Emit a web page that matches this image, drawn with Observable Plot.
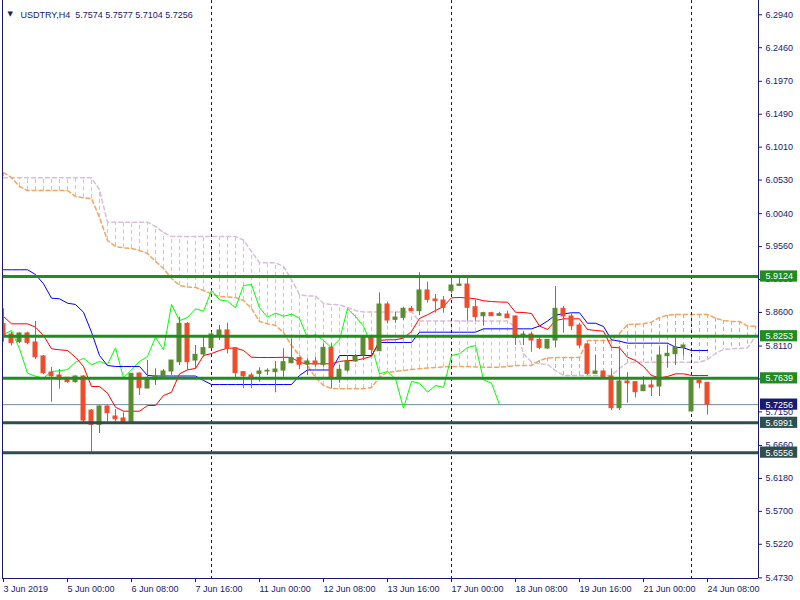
<!DOCTYPE html>
<html><head><meta charset="utf-8">
<script src="https://cdn.jsdelivr.net/npm/d3@7"></script>
<script src="https://cdn.jsdelivr.net/npm/@observablehq/plot@0.6"></script>
<style>
html,body{margin:0;padding:0;background:#fff;}
#chart svg{display:block;}
</style>
</head><body><div id="chart"></div>
<script>
// ---- data (USDTRY, H4, bars from 3 Jun 2019 16:00) ----
const symbolTitle = "USDTRY,H4";
const lastOHLC = [5.7574, 5.7577, 5.7104, 5.7256];

const barOpen = [5.8434,5.8278,5.8166,5.8293,5.8162,5.7958,5.7724,5.7681,5.7647,5.7583,
5.7666,5.7170,5.6962,5.7229,5.7083,5.7054,5.6995,5.7710,5.7491,5.7618,
5.7632,5.7739,5.7874,5.8434,5.7899,5.7987,5.8079,5.8249,5.8337,5.8079,
5.7729,5.7681,5.7705,5.7739,5.7729,5.7753,5.7860,5.7933,5.7841,5.7885,
5.7837,5.8084,5.7647,5.7753,5.7885,5.7972,5.8230,5.8035,5.8716,5.8493,
5.8522,5.8653,5.8618,5.8920,5.8789,5.8774,5.8910,5.8988,5.9007,5.8676,
5.8545,5.8589,5.8551,5.8570,5.8541,5.8249,5.8278,5.8201,5.8074,5.8191,
5.8653,5.8541,5.8410,5.8133,5.7705,5.7739,5.7666,5.7204,5.7593,5.7583,
5.7452,5.7535,5.7520,5.7962,5.7991,5.8084,5.7156,5.7608,5.7574];
const barHigh = [5.8653,5.8312,5.8303,5.8312,5.8468,5.7972,5.7797,5.7768,5.7651,5.7673,
5.7681,5.7185,5.7239,5.7239,5.7185,5.7137,5.7705,5.7715,5.7899,5.7778,
5.7768,5.7899,5.8531,5.8453,5.8118,5.8235,5.8312,5.8410,5.8443,5.8085,
5.7735,5.7714,5.7793,5.7778,5.7885,5.8070,5.8216,5.7940,5.7924,5.7947,
5.8143,5.8143,5.7826,5.7972,5.7987,5.8264,5.8264,5.8886,5.8749,5.8603,
5.8676,5.8687,5.9178,5.9041,5.8862,5.8832,5.9090,5.9124,5.9114,5.8784,
5.8603,5.8603,5.8603,5.8618,5.8548,5.8322,5.8312,5.8264,5.8205,5.8978,
5.8687,5.8580,5.8443,5.8140,5.7972,5.7746,5.7764,5.8103,5.7720,5.7589,
5.7666,5.7608,5.8093,5.8118,5.8224,5.8122,5.7625,5.7615,5.7577];
const barLow = [5.8166,5.8114,5.8143,5.8128,5.7914,5.7695,5.7291,5.7481,5.7568,5.7571,
5.6976,5.6562,5.6835,5.7006,5.7006,5.6981,5.6981,5.7389,5.7487,5.7535,
5.7618,5.7681,5.7826,5.7753,5.7778,5.7947,5.8070,5.8191,5.7997,5.7632,
5.7487,5.7487,5.7583,5.7681,5.7428,5.7656,5.7851,5.7764,5.7681,5.7802,
5.7802,5.7487,5.7568,5.7729,5.7870,5.7899,5.7972,5.8031,5.8434,5.8443,
5.8482,5.8612,5.8555,5.8735,5.8589,5.8589,5.8872,5.8978,5.8472,5.8472,
5.8399,5.8541,5.8541,5.8510,5.8118,5.8118,5.8020,5.8055,5.8060,5.8084,
5.8297,5.8337,5.8070,5.7681,5.7698,5.7618,5.7170,5.7170,5.7277,5.7355,
5.7447,5.7374,5.7374,5.7787,5.7826,5.7962,5.7150,5.7487,5.7104];
const barClose = [5.8249,5.8152,5.8293,5.8157,5.7947,5.7714,5.7670,5.7622,5.7583,5.7666,
5.7024,5.6962,5.7229,5.7131,5.7043,5.6995,5.7705,5.7495,5.7641,5.7666,
5.7739,5.7899,5.8434,5.7874,5.7982,5.8079,5.8278,5.8337,5.8070,5.7714,
5.7670,5.7641,5.7739,5.7749,5.7768,5.7874,5.7933,5.7837,5.7885,5.7841,
5.8084,5.7647,5.7764,5.7885,5.7958,5.8239,5.8055,5.8716,5.8482,5.8526,
5.8653,5.8618,5.8920,5.8784,5.8764,5.8668,5.8993,5.9007,5.8668,5.8531,
5.8589,5.8545,5.8574,5.8516,5.8230,5.8278,5.8191,5.8084,5.8201,5.8653,
5.8541,5.8399,5.8118,5.7705,5.7739,5.7632,5.7204,5.7593,5.7568,5.7437,
5.7535,5.7506,5.7972,5.7997,5.8089,5.8118,5.7618,5.7568,5.7256];

// Ichimoku lines
const tenkan = [5.8541,5.8434,5.8434,5.8434,5.8385,5.8264,5.8070,5.8055,5.8045,5.7947,
5.7812,5.7520,5.7520,5.7423,5.7218,5.7160,5.7160,5.7160,5.7243,5.7243,
5.7389,5.7437,5.7705,5.7764,5.7783,5.7972,5.8001,5.8045,5.8079,5.8079,
5.8045,5.7947,5.7943,5.7943,5.7943,5.7947,5.7943,5.7870,5.7851,5.7851,
5.7851,5.7851,5.7885,5.7899,5.7899,5.7928,5.7958,5.8191,5.8201,5.8201,
5.8227,5.8322,5.8512,5.8566,5.8628,5.8687,5.8813,5.8818,5.8811,5.8799,
5.8770,5.8759,5.8752,5.8749,5.8603,5.8599,5.8585,5.8402,5.8351,5.8482,
5.8507,5.8507,5.8507,5.8351,5.8337,5.8326,5.8093,5.8084,5.7947,5.7899,
5.7812,5.7681,5.7647,5.7666,5.7705,5.7705,5.7681,5.7681,5.7681];
const kijun = [5.9222,5.9222,5.9222,5.9222,5.9153,5.9018,5.8808,5.8799,5.8735,5.8716,
5.8603,5.8312,5.7972,5.7826,5.7812,5.7812,5.7812,5.7812,5.7681,5.7673,
5.7673,5.7673,5.7673,5.7673,5.7673,5.7608,5.7549,5.7549,5.7549,5.7549,
5.7549,5.7549,5.7549,5.7549,5.7549,5.7549,5.7549,5.7681,5.7761,5.7761,
5.7761,5.7761,5.7972,5.7972,5.7972,5.7972,5.7972,5.8162,5.8162,5.8162,
5.8162,5.8162,5.8312,5.8312,5.8312,5.8312,5.8312,5.8312,5.8312,5.8312,
5.8361,5.8361,5.8361,5.8361,5.8361,5.8361,5.8361,5.8402,5.8475,5.8563,
5.8580,5.8595,5.8595,5.8443,5.8443,5.8395,5.8201,5.8181,5.8152,5.8152,
5.8152,5.8152,5.8152,5.8152,5.8093,5.8084,5.8045,5.8045,5.8045];
// Senkou spans (already shifted 26 bars forward, so they run past the last bar)
const spanA = [6.0640,6.0567,6.0436,6.0378,6.0378,6.0378,6.0378,6.0378,6.0378,6.0290,
6.0271,6.0261,5.9984,5.9649,5.9561,5.9542,5.9532,5.9503,5.9459,5.9343,
5.9241,5.9095,5.8993,5.8971,5.8964,5.8920,5.8872,5.8832,5.8825,5.8818,
5.8774,5.8657,5.8468,5.8434,5.8410,5.8308,5.8118,5.7972,5.7826,5.7651,
5.7535,5.7491,5.7487,5.7487,5.7487,5.7487,5.7506,5.7656,5.7729,5.7739,
5.7753,5.7768,5.7778,5.7790,5.7797,5.7805,5.7812,5.7812,5.7812,5.7805,
5.7802,5.7802,5.7802,5.7812,5.7826,5.7826,5.7826,5.7899,5.7936,5.7943,
5.7943,5.7943,5.7943,5.8191,5.8191,5.8191,5.8191,5.8293,5.8424,5.8429,
5.8434,5.8458,5.8526,5.8560,5.8570,5.8570,5.8570,5.8570,5.8570,5.8516,
5.8482,5.8468,5.8468,5.8399,5.8400];
const spanB = [6.0563,6.0563,6.0563,6.0563,6.0563,6.0563,6.0563,6.0563,6.0563,6.0563,
6.0563,6.0563,6.0388,5.9916,5.9916,5.9916,5.9916,5.9916,5.9916,5.9853,
5.9766,5.9707,5.9707,5.9707,5.9707,5.9707,5.9707,5.9707,5.9707,5.9707,
5.9656,5.9489,5.9324,5.9324,5.9324,5.9270,5.9080,5.8862,5.8840,5.8840,
5.8730,5.8716,5.8711,5.8672,5.8628,5.8606,5.8606,5.8606,5.8606,5.8606,
5.8606,5.8606,5.8475,5.8475,5.8475,5.8475,5.8475,5.8475,5.8475,5.8475,
5.8475,5.8475,5.8475,5.8475,5.8385,5.8001,5.7874,5.7851,5.7841,5.7753,
5.7681,5.7681,5.7681,5.7681,5.7681,5.7681,5.7681,5.7783,5.7870,5.7874,
5.7874,5.7874,5.7874,5.7874,5.7874,5.7874,5.7874,5.7874,5.7914,5.8001,
5.8060,5.8070,5.8074,5.8084,5.8250];
const chikouShift = 26;

const timeTickIndex = [0, 8, 16, 24, 32, 40, 48, 56, 64, 72, 80, 88];
const timeTickLabels = ["3 Jun 2019","5 Jun 00:00","6 Jun 08:00","7 Jun 16:00","11 Jun 00:00",
  "12 Jun 08:00","13 Jun 16:00","17 Jun 00:00","18 Jun 08:00","19 Jun 16:00","21 Jun 00:00","24 Jun 08:00"];
const priceTicks = [6.2940,6.2460,6.1970,6.1490,6.1010,6.0530,6.0040,5.9560,5.9080,5.8600,
  5.8110,5.7630,5.7150,5.6660,5.6180,5.5700,5.5220,5.4730];
const levelPrices = [5.9124, 5.8253, 5.7639, 5.6991, 5.6556];
const bidPrice = 5.7256;
const weekSeparators = [26, 56, 86];

// ---- derived tables ----
const bars = barOpen.map((o, i) => ({i, o, h: barHigh[i], l: barLow[i], c: barClose[i]}));
const chikou = barClose.slice(chikouShift).map((v, i) => ({i, v}));
const cloud = spanA.map((a, i) => ({i, a, b: spanB[i]}));

// ---- style ----
const NAVY = "#191970", GREEN = "#5b8c32", RED = "#f04c2c";
const candleColor = d => d.c >= d.o ? GREEN : RED;
const levelColor = p => p > bidPrice ? "#228b22" : "#2f4f4f";
const YMIN = 5.4721, YMAX = 6.3148, XMIN = -0.125, XMAX = 94.375;
const FONT = "Liberation Sans, Arial, sans-serif";
const pxP = (YMAX - YMIN) / 578; // price per pixel
const halfBox = 5.6 * pxP;

const chart = Plot.plot({
  width: 800, height: 600,
  marginLeft: 2, marginRight: 42, marginTop: 0, marginBottom: 22,
  x: {type: "linear", domain: [XMIN, XMAX], axis: null},
  y: {domain: [YMIN, YMAX], axis: null},
  color: {type: "identity"},
  style: {fontFamily: FONT, fontSize: "9px", background: "#fff", color: NAVY, overflow: "visible"},
  marks: [
    // cloud hatch
    Plot.ruleX(cloud, {x: "i", y1: "a", y2: "b", stroke: d => d.a >= d.b ? "#f4a460" : "#d8bfd8",
      strokeDasharray: "4,3", clip: true}),
    Plot.line(cloud, {x: "i", y: "b", stroke: "#d8bfd8", strokeDasharray: "4,3", clip: true}),
    Plot.line(cloud, {x: "i", y: "a", stroke: "#f4a460", strokeDasharray: "4,3", clip: true}),
    // bid line
    Plot.ruleY([bidPrice], {stroke: "#778899", strokeWidth: 1}),
    // week separators
    Plot.ruleX(weekSeparators, {stroke: NAVY, strokeDasharray: "3,3"}),
    // ichimoku lines
    Plot.line(chikou, {x: "i", y: "v", stroke: "#00ff00", strokeWidth: 1, clip: true}),
    Plot.line(kijun.map((v, i) => ({i, v})), {x: "i", y: "v", stroke: "#0000ff", strokeWidth: 1, clip: true}),
    Plot.line(tenkan.map((v, i) => ({i, v})), {x: "i", y: "v", stroke: "#ff0000", strokeWidth: 1, clip: true}),
    // candles
    Plot.ruleX(bars, {x: "i", y1: "l", y2: "h", stroke: candleColor, strokeWidth: 1, clip: true}),
    Plot.rect(bars, {x1: d => d.i - 0.25, x2: d => d.i + 0.25, y1: "o", y2: "c",
      fill: candleColor, stroke: candleColor, strokeWidth: 1, clip: true}),
    // horizontal levels
    Plot.ruleY(levelPrices, {y: d => d, stroke: levelColor, strokeWidth: 3}),
    // frame
    Plot.ruleX([XMIN], {stroke: NAVY}),
    Plot.ruleX([XMAX], {stroke: NAVY}),
    Plot.ruleY([YMIN], {stroke: NAVY}),
    // right price axis
    Plot.ruleY(priceTicks, {y: d => d, x1: XMAX, x2: XMAX + 0.5, stroke: NAVY}),
    Plot.text(priceTicks, {y: d => d, x: XMAX, dx: 7, text: d => d.toFixed(4), textAnchor: "start",
      fill: NAVY, fontSize: 9}),
    // level price boxes
    Plot.rect(levelPrices, {x1: XMAX + 0.25, x2: XMAX + 4.9, y1: d => d - halfBox, y2: d => d + halfBox, fill: levelColor}),
    Plot.text(levelPrices, {y: d => d, x: XMAX, dx: 7, text: d => d.toFixed(4), textAnchor: "start",
      fill: "#fff", fontSize: 9}),
    Plot.rect([bidPrice], {x1: XMAX + 0.25, x2: XMAX + 4.9, y1: d => d - halfBox, y2: d => d + halfBox, fill: NAVY}),
    Plot.text([bidPrice], {y: d => d, x: XMAX, dx: 7, text: d => d.toFixed(4), textAnchor: "start",
      fill: "#fff", fontSize: 9}),
    // time axis
    Plot.ruleX(timeTickIndex, {x: d => d, y1: YMIN, y2: YMIN - 4 * pxP, stroke: NAVY}),
    Plot.text(timeTickIndex, {x: d => d, y: YMIN, dy: 11, dx: 0, text: (d, k) => timeTickLabels[k],
      textAnchor: "start", fill: NAVY, fontSize: 9}),
    // title
    Plot.text(["\u25BC"], {frameAnchor: "top-left", dx: 5, dy: 11, text: d => d, fill: NAVY,
      fontSize: 7, fontFamily: "DejaVu Sans", textAnchor: "start"}),
    Plot.text([symbolTitle + "\u00a0\u00a0" + lastOHLC.map(v => v.toFixed(4)).join(" ")],
      {frameAnchor: "top-left", dx: 18, dy: 11, text: d => d, fill: NAVY, fontSize: 9, textAnchor: "start"})
  ]
});
document.getElementById("chart").appendChild(chart);
</script>
</body></html>
